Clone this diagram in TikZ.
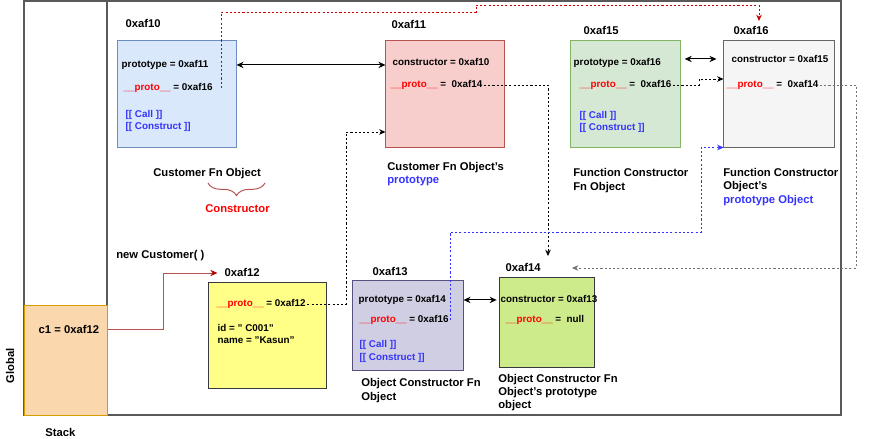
\documentclass[tikz,border=0pt]{standalone}
\usepackage{fontspec}
\setmainfont{Liberation Sans}
\usetikzlibrary{arrows.meta,decorations.pathreplacing}

\definecolor{bluefill}{HTML}{DAE8FC}\definecolor{blueline}{HTML}{6C8EBF}
\definecolor{redfill}{HTML}{F8CECC}\definecolor{redline}{HTML}{B85450}
\definecolor{greenfill}{HTML}{D5E8D4}\definecolor{greenline}{HTML}{82B366}
\definecolor{grayfill}{HTML}{F5F5F5}\definecolor{grayline}{HTML}{666666}
\definecolor{yellowfill}{HTML}{FFFF88}\definecolor{darkline}{HTML}{36393D}
\definecolor{purplefill}{HTML}{D0CEE2}\definecolor{purpleline}{HTML}{56517E}
\definecolor{limefill}{HTML}{CDEB8B}
\definecolor{orangefill}{HTML}{FAD7AC}\definecolor{orangeline}{HTML}{D79B00}
\definecolor{protored}{HTML}{FF0000}
\definecolor{callblue}{HTML}{3333FF}
\definecolor{linkred}{HTML}{CC0000}
\definecolor{tipred}{HTML}{B20000}

\newcommand{\protolbl}{\textcolor{protored}{\_\_proto\_\_}}

\tikzset{
  objbox/.style={draw, rectangle, line width=0.7pt, inner sep=0pt},
  addr/.style={anchor=base west, inner sep=1pt, font=\fontsize{8}{9.5}\selectfont\bfseries},
  field/.style={anchor=base west, inner sep=1pt, font=\fontsize{7}{8.5}\selectfont\bfseries},
  caption/.style={anchor=base west, inner sep=0pt, align=left, font=\fontsize{8}{9.5}\selectfont\bfseries},
  ptr/.style={line width=0.6pt, dash pattern=on 1.5pt off 1.5pt, -{Stealth[length=4.5pt,width=4pt]}},
}

\begin{document}
\begin{tikzpicture}[x=0.025cm,y=-0.025cm]
  \useasboundingbox (0,0) rectangle (877,439);

  % frames
  \draw[black!65, line width=0.8pt] (24,1) rectangle (841,415);
  \draw[black!65, line width=0.8pt] (107,1) -- (107,415);

  % stack
  \node[objbox, fill=orangefill, draw=orangeline, minimum width=2.05cm, minimum height=2.725cm] (stack) at (66,360.5) {};
  \node[addr] (c1) at (37,334) {c1 = 0xaf12};
  \node[caption] (stk) at (45,436) {Stack};
  \node[caption, anchor=center, rotate=90] (glb) at (10,366) {Global};

  % Customer fn object
  \node[objbox, fill=bluefill, draw=blueline, minimum width=2.95cm, minimum height=2.65cm] (af10) at (177,94) {};
  \node[addr] (af10a) at (124,28) {0xaf10};
  \node[field] (af10p) at (120,67.5) {prototype = 0xaf11};
  \node[field] (af10r) at (122,90.5) {\protolbl{} = 0xaf16};
  \node[field, text=callblue] (af10c) at (124,117.5) {[[ Call ]]};
  \node[field, text=callblue] (af10k) at (124,129.5) {[[ Construct ]]};
  \node[caption] (af10n) at (153,177) {Customer Fn Object};
  \draw[redline, line width=0.7pt, decorate, decoration={brace, mirror, amplitude=9pt}] (208,183) -- (265,183);
  \node[caption, text=protored] (ctor) at (205,213) {Constructor};

  % Customer fn object's prototype
  \node[objbox, fill=redfill, draw=redline, minimum width=2.95cm, minimum height=2.65cm] (af11) at (445,94) {};
  \node[addr] (af11a) at (390,29) {0xaf11};
  \node[field] (af11c) at (391,65.5) {constructor = 0xaf10};
  \node[field] (af11r) at (389,87.5) {\protolbl{} =\ \ 0xaf14};
  \node[caption, anchor=west] (af11n) at (387,174) {Customer Fn Object's\\\textcolor{callblue}{prototype}};

  % Function constructor
  \node[objbox, fill=greenfill, draw=greenline, minimum width=2.725cm, minimum height=2.65cm] (af15) at (625.5,94) {};
  \node[addr] (af15a) at (582,35) {0xaf15};
  \node[field] (af15p) at (572,65.5) {prototype = 0xaf16};
  \node[field] (af15r) at (578,87.5) {\protolbl{} =\ \ 0xaf16};
  \node[field, text=callblue] (af15c) at (578,118.5) {[[ Call ]]};
  \node[field, text=callblue] (af15k) at (578,130.5) {[[ Construct ]]};
  \node[caption, anchor=west] (af15n) at (573,180.5) {Function Constructor\\Fn Object};

  % Function constructor's prototype
  \node[objbox, fill=grayfill, draw=grayline, minimum width=2.75cm, minimum height=2.65cm] (af16) at (779,94) {};
  \node[addr] (af16a) at (732,35) {0xaf16};
  \node[field] (af16c) at (730,62.5) {constructor = 0xaf15};
  \node[field] (af16r) at (725,87.5) {\protolbl{} =\ \ 0xaf14};
  \node[caption, anchor=west] (af16n) at (723,187) {Function Constructor\\Object's\\\textcolor{callblue}{prototype Object}};

  % c1 instance
  \node[caption] (newc) at (116,259) {new Customer( )};
  \node[objbox, fill=yellowfill, draw=darkline, minimum width=2.925cm, minimum height=2.625cm] (af12) at (267.5,335.5) {};
  \node[addr] (af12a) at (223,277) {0xaf12};
  \node[field] (af12r) at (215,306.5) {\protolbl{} = 0xaf12};
  \node[field] (af12i) at (216,331.5) {id = " C001"};
  \node[field] (af12m) at (216,343.5) {name = "Kasun"};

  % Object constructor
  \node[objbox, fill=purplefill, draw=purpleline, minimum width=2.75cm, minimum height=2.225cm] (af13) at (408,325.5) {};
  \node[addr] (af13a) at (371,276) {0xaf13};
  \node[field] (af13p) at (357,302.5) {prototype = 0xaf14};
  \node[field] (af13r) at (358,322.5) {\protolbl{} = 0xaf16};
  \node[field, text=callblue] (af13c) at (358,347.5) {[[ Call ]]};
  \node[field, text=callblue] (af13k) at (358,360.5) {[[ Construct ]]};
  \node[caption, anchor=west] (af13n) at (361,390.5) {Object Constructor Fn\\Object};

  % Object prototype
  \node[objbox, fill=limefill, draw=darkline, minimum width=2.35cm, minimum height=2.225cm] (af14) at (547,322.5) {};
  \node[addr] (af14a) at (504,272) {0xaf14};
  \node[field] (af14c) at (499,302.5) {constructor = 0xaf13};
  \node[field] (af14r) at (504,322.5) {\protolbl{} =\ \ null};
  \node[caption, anchor=west] (af14n) at (498,392.5) {Object Constructor Fn\\Object's prototype\\object};

  % bend points and free ends
  \coordinate (af16top) at (759,21);
  \coordinate (af14top) at (548,256);
  \coordinate (af14side) at (572,268);
  \coordinate (bendy) at (346,132);
  \coordinate (bendg) at (699,79);
  \coordinate (bendr) at (856,268);
  \coordinate (bendb) at (701,232);
  \coordinate (bendc) at (163,273);

  \begin{scope}[line width=0.7pt, >={Stealth[length=5pt,width=4.5pt]}]
    \draw[<->] (af10p -| af10.east) -- (af10p -| af11.west);
    \draw[<->, shorten <=3pt, shorten >=5pt] (af16c -| af15.east) -- (af16c -| af16.west);
    \draw[<->, shorten >=2pt] (af13p -| af13.east) -- (af13p -| af14.west);
    \draw[-{Stealth[length=5pt,width=4.5pt,color=tipred]}, draw=redline, shorten >=4pt] (c1 -| stack.east) -| (bendc) -- (af12a.west |- bendc);
  \end{scope}

  \draw[ptr, linkred] ([xshift=5pt]af10r.east) |- (476,12) |- (759,5) -- (af16top);
  \draw[ptr] (af11r.east) -| (af14top);
  \draw[ptr] (af12r.east) -| (bendy) -- (af11.west |- bendy);
  \draw[ptr] (af15r.east) -| (bendg) -- (af16.west |- bendg);
  \draw[ptr, black!55] (af16r.east) -| (bendr) -- (af14side);
  \draw[ptr, callblue] (af13r.east) |- (bendb) |- (af16.south west);
\end{tikzpicture}
\end{document}
